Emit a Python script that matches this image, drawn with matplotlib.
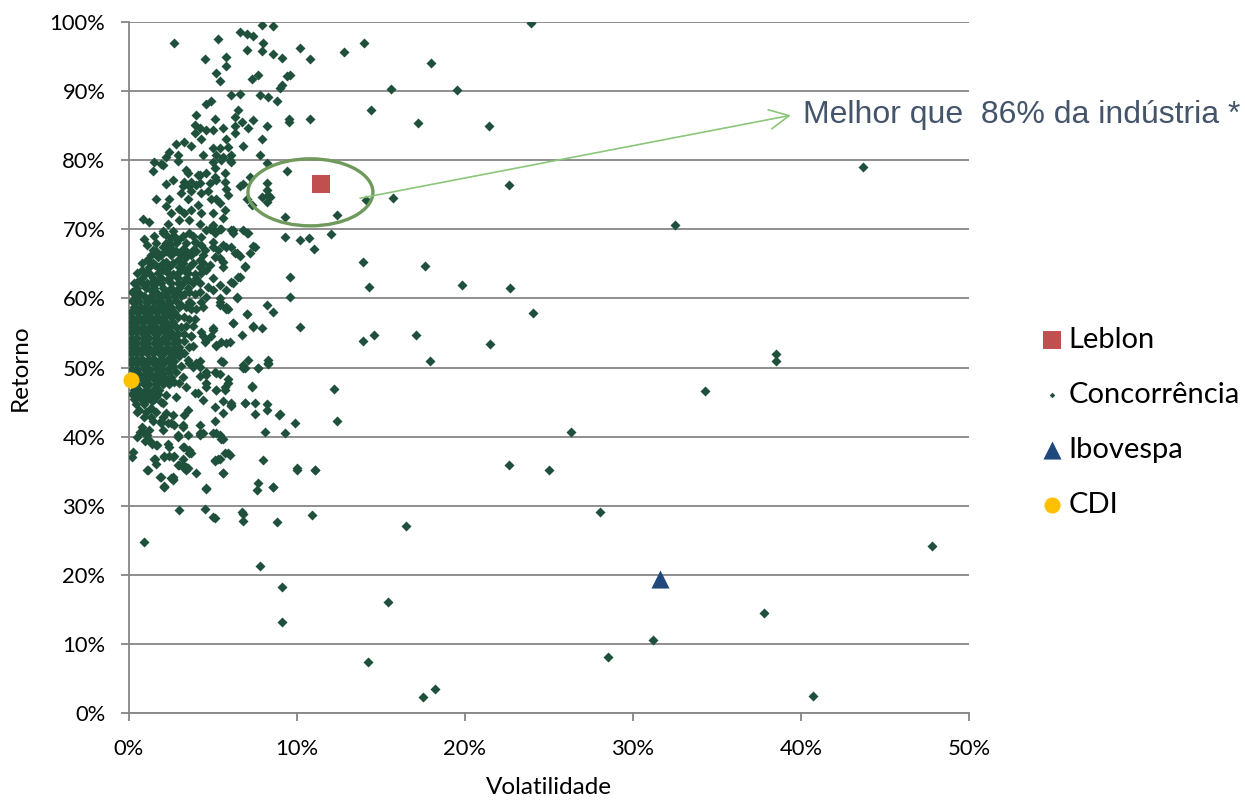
import matplotlib
matplotlib.use('Agg')
import matplotlib.pyplot as plt
from matplotlib.patches import Ellipse
from matplotlib.ticker import FuncFormatter

# ---------------- data (volatility %, return %) ----------------
leblon_vol, leblon_ret = [11.4], [76.55]
ibov_vol, ibov_ret = [31.6], [19.35]
cdi_vol, cdi_ret = [0.1], [48.2]

comp_outliers = [
    (23.9, 99.9), (18.0, 94.0), (15.6, 90.3), (19.5, 90.1), (17.2, 85.4), (21.4, 85.0),
    (43.7, 79.0), (22.6, 76.4), (15.7, 74.6), (32.5, 70.6), (17.6, 64.7), (19.8, 62.0),
    (22.65, 61.5), (24.05, 57.9), (17.1, 54.7), (21.5, 53.4), (38.5, 52.0), (17.9, 51.0),
    (38.5, 50.9), (34.3, 46.6), (26.3, 40.7), (22.6, 35.9), (25.0, 35.2), (28.05, 29.1),
    (16.5, 27.1), (47.8, 24.1), (15.4, 16.0), (37.8, 14.4), (31.2, 10.5), (28.5, 8.1),
    (18.2, 3.5), (17.5, 2.3), (40.7, 2.5), (14.2, 7.4), (14.4, 87.3), (14.0, 96.9),
    (12.8, 95.7), (14.1, 74.2), (13.9, 65.2), (14.3, 61.6), (13.9, 53.9), (14.6, 54.7),
    (12.2, 46.9), (12.4, 42.2), (12.4, 72.1), (12.0, 69.3), (11.1, 35.2), (10.9, 28.7),
    (9.1, 18.2), (9.1, 13.2), (7.8, 21.3), (0.9, 24.8),
]

comp_upper = [
    (7.9, 99.5), (8.6, 99.4), (6.6, 98.5), (7.0, 98.2), (7.4, 98.0), (8.0, 97.0), (2.7, 97.0),
    (5.3, 97.5), (10.2, 96.3), (7.0, 95.9), (7.9, 95.8), (8.6, 95.3), (9.1, 94.8), (10.8, 94.6),
    (4.5, 94.6), (5.8, 95.0), (5.8, 93.6), (5.2, 92.6), (5.4, 91.5), (7.3, 91.7), (7.7, 92.4),
    (9.4, 92.2), (9.6, 92.3), (9.1, 90.9), (9.0, 90.5), (6.1, 89.4), (6.6, 89.6), (7.8, 89.4),
    (8.3, 89.2), (8.8, 88.5), (4.9, 88.5), (4.6, 88.1), (4.0, 86.6), (5.1, 86.0), (6.5, 87.3),
    (6.3, 86.3), (6.7, 85.6), (7.4, 85.8), (9.5, 86.0), (9.5, 85.6), (10.8, 86.0), (8.2, 84.9),
    (7.1, 84.7), (6.3, 85.0), (5.6, 84.7), (3.9, 85.1), (4.2, 84.6), (4.6, 84.3), (5.0, 84.3),
    (3.9, 83.9), (6.3, 84.0), (5.8, 83.0), (6.8, 82.1), (7.9, 83.0), (4.3, 83.0), (2.8, 82.4),
    (3.3, 82.6), (3.7, 82.1), (5.0, 81.7), (5.4, 81.7), (5.9, 81.9), (2.4, 81.2), (2.9, 80.8),
    (4.4, 80.8), (5.2, 80.8), (5.6, 80.5), (6.1, 80.8), (7.8, 80.8), (2.2, 80.5), (2.0, 79.3),
    (1.5, 79.7), (1.9, 79.5), (5.0, 79.8), (5.5, 80.0), (6.0, 80.0), (6.1, 79.8), (8.2, 79.6),
    (1.4, 78.4), (2.9, 79.9), (3.4, 78.6), (3.5, 78.2), (4.1, 77.8), (4.2, 77.9), (4.6, 78.1),
    (5.1, 78.8), (5.7, 78.1), (5.1, 77.6), (9.4, 78.5), (7.2, 77.6), (2.6, 77.1), (3.3, 76.9),
    (3.7, 76.9), (4.2, 76.7), (2.2, 76.6), (3.2, 76.2), (3.6, 76.2), (4.0, 76.4), (4.8, 76.7),
    (5.2, 77.1), (5.7, 76.9), (5.8, 75.9), (6.6, 76.2), (6.8, 76.6), (8.2, 76.7), (8.2, 75.7),
    (7.9, 74.7), (8.3, 75.0), (8.4, 74.7), (8.2, 73.9), (7.0, 74.4), (7.3, 73.5), (9.3, 71.8),
    (1.6, 74.4), (2.4, 74.4), (3.1, 75.2), (3.5, 74.4), (3.7, 75.5), (4.3, 75.2), (4.7, 75.5),
    (4.9, 74.4), (5.2, 74.4), (5.4, 73.8), (5.9, 75.0), (2.2, 73.3), (2.5, 72.3), (3.0, 73.0),
    (3.3, 72.3), (3.7, 72.8), (4.1, 73.5), (4.3, 72.3), (5.0, 72.3), (5.7, 72.8), (5.6, 71.6),
    (0.85, 71.5), (1.2, 71.0), (2.3, 70.8), (3.0, 71.3), (3.6, 71.3), (4.2, 70.8), (5.0, 70.6),
    (5.5, 70.1), (9.3, 68.9), (10.2, 68.5), (10.7, 68.8), (0.9, 68.6), (2.0, 69.5), (2.5, 68.7),
    (4.6, 69.9), (5.1, 69.5), (6.1, 69.9), (6.2, 69.5), (6.8, 69.9), (7.1, 69.5), (7.5, 67.5),
    (11.0, 67.2),
]

comp_middle = [
    (5.6, 67.7), (6.1, 67.5), (7.4, 67.6), (5.0, 67.5), (4.4, 66.3), (5.1, 66.0), (5.6, 65.2),
    (6.4, 66.5), (6.6, 66.1), (7.2, 66.5), (6.9, 64.7), (6.6, 63.1), (6.2, 62.3), (5.0, 61.2),
    (5.4, 60.0), (6.4, 60.1), (5.8, 58.4), (6.2, 56.5), (7.0, 57.7), (8.2, 59.0), (8.6, 58.1),
    (9.6, 63.1), (9.6, 60.2), (10.2, 55.8), (7.4, 55.9), (7.9, 55.7), (6.7, 54.7), (5.8, 53.5),
    (5.2, 53.1), (4.6, 54.0), (5.0, 55.4), (4.4, 54.5), (3.7, 54.5), (3.8, 53.1), (7.1, 51.1),
    (6.8, 50.4), (6.8, 49.9), (7.7, 50.0), (8.3, 51.1), (8.3, 50.5), (5.6, 50.8), (7.3, 47.2),
    (5.9, 48.3), (5.2, 49.2), (4.6, 48.9), (4.2, 50.1), (3.6, 50.6), (4.0, 50.6), (4.6, 47.7),
    (5.2, 46.7), (5.7, 47.2), (4.1, 46.3), (4.4, 45.3),
    (2.0, 69.7), (2.2, 69.2), (2.6, 69.7), (2.9, 68.5), (2.4, 68.0), (3.2, 69.0), (3.6, 69.4),
    (3.9, 68.2), (4.3, 68.9), (4.8, 70.1), (5.1, 69.7), (5.4, 70.1), (6.2, 69.9), (7.0, 69.4),
    (5.0, 68.2), (5.3, 67.0), (5.8, 67.5), (6.3, 66.5), (6.9, 64.6), (6.1, 62.4), (6.5, 63.1),
    (6.4, 60.2), (1.45, 67.0), (1.75, 66.0), (2.0, 67.5), (2.6, 67.0), (3.2, 67.2), (3.8, 67.0),
    (4.5, 67.0), (1.05, 65.6), (1.55, 64.8), (2.2, 65.3), (2.9, 65.6), (3.4, 66.0), (4.2, 65.6),
    (4.8, 64.8), (5.4, 65.8), (5.6, 64.6), (0.75, 64.1), (1.25, 63.6), (2.0, 64.1), (2.6, 63.6),
    (3.3, 64.1), (3.9, 63.6), (4.6, 64.1), (5.0, 62.9), (0.45, 62.4), (1.05, 62.2), (1.65, 62.4),
    (2.3, 62.7), (2.9, 62.2), (3.5, 62.7), (4.2, 62.2), (4.7, 61.7), (5.4, 61.9), (5.8, 61.2),
    (0.65, 60.7), (1.35, 61.0), (2.0, 60.7), (2.6, 61.0), (3.3, 60.7), (3.9, 60.7), (4.6, 60.2),
    (0.35, 59.3), (1.05, 59.3), (1.75, 59.5), (2.4, 59.3), (3.1, 59.0), (3.7, 59.3), (4.4, 58.8),
    (5.4, 59.0), (5.8, 58.8),
    (3.6, 59.5), (4.3, 59.5), (5.4, 59.5), (5.9, 58.4), (7.0, 57.8), (6.2, 56.5), (7.4, 56.0),
    (5.0, 55.7), (4.3, 55.2), (4.9, 54.5), (3.7, 54.6), (4.5, 53.7), (5.2, 53.3), (5.5, 53.7),
    (6.0, 53.7), (3.6, 53.0), (3.0, 52.5), (3.3, 52.1), (5.5, 50.9), (6.9, 49.9), (7.7, 49.9),
    (8.3, 50.6), (3.5, 51.1), (4.2, 50.9), (3.8, 50.1), (4.6, 49.4), (5.1, 49.4), (4.2, 48.7),
    (5.4, 49.1), (5.9, 47.7), (7.3, 47.3), (5.2, 46.7), (5.7, 46.7), (4.6, 47.2), (3.9, 46.3),
    (3.4, 47.2), (3.0, 47.7), (2.8, 45.8), (2.2, 46.0), (1.6, 45.8),
    (1.6, 68.0), (2.2, 68.0), (2.8, 68.0), (3.4, 68.0), (4.0, 68.0), (1.3, 66.3), (1.9, 66.3),
    (2.5, 66.3), (3.1, 66.3), (3.7, 66.3), (1.2, 64.5), (1.7, 64.5), (2.4, 64.5), (3.0, 64.5),
    (3.6, 64.5), (4.2, 64.5), (0.8, 63.0), (1.4, 63.0), (1.9, 63.0), (2.4, 63.0), (2.9, 63.0),
    (3.4, 63.0), (4.0, 63.0), (0.5, 61.5), (1.0, 61.5), (1.5, 61.5), (2.0, 61.5), (2.5, 61.5),
    (3.0, 61.5), (3.5, 61.5),
]

comp_fill = [
    (1.5, 69.0), (2.7, 69.0), (3.8, 69.0), (1.1, 67.7), (2.4, 67.7), (4.3, 67.7),
    (1.6, 66.9), (2.2, 66.9), (2.8, 66.9), (3.4, 66.9), (4.0, 66.9),
    (0.8, 65.1), (1.4, 65.1), (2.0, 65.1), (2.6, 65.1), (3.2, 65.1), (3.8, 65.1), (4.4, 65.1),
    (0.5, 63.7), (1.0, 63.7), (1.7, 63.7), (2.3, 63.7), (2.9, 63.7), (3.5, 63.7), (4.3, 63.7),
    (0.3, 62.3), (0.8, 62.3), (1.3, 62.3), (1.9, 62.3), (2.5, 62.3), (3.2, 62.3), (3.8, 62.3),
    (0.2, 60.9), (1.6, 60.9), (2.3, 60.9), (2.9, 60.9), (3.6, 60.9), (4.2, 60.9),
    (3.7, 58.4), (4.0, 58.4), (3.6, 57.0), (3.9, 57.0), (3.4, 56.0), (3.8, 56.0),
    (2.9, 54.8), (3.3, 54.8), (2.9, 53.9), (3.3, 53.9), (3.0, 53.0), (2.8, 52.3),
    (2.6, 51.6), (3.0, 51.6), (2.7, 50.9), (2.6, 50.2), (3.1, 50.2), (2.4, 49.4), (2.8, 49.4),
    (2.5, 48.6), (3.2, 48.6), (2.7, 47.9), (1.9, 45.0), (1.3, 44.2), (0.5, 43.5), (1.0, 43.5),
    (1.6, 43.5), (0.9, 42.8), (1.3, 42.8), (2.0, 42.8), (1.2, 41.0), (2.0, 41.0),
]

comp_core = [
    (0.4, 60.3), (0.9, 60.3), (1.3, 60.3), (1.8, 60.3), (2.2, 60.3), (2.7, 60.3), (3.1, 60.3),
    (0.2, 59.6), (0.6, 59.6), (1.1, 59.6), (1.5, 59.6), (1.9, 59.6), (2.4, 59.6), (2.8, 59.6),
    (0.3, 58.8), (0.7, 58.8), (1.0, 58.8), (1.4, 58.8), (1.8, 58.8), (2.1, 58.8), (2.5, 58.8),
    (3.0, 58.8), (3.4, 58.8),
    (0.1, 58.1), (0.5, 58.1), (0.9, 58.1), (1.2, 58.1), (1.6, 58.1), (2.0, 58.1), (2.3, 58.1),
    (2.7, 58.1),
    (0.2, 57.3), (0.6, 57.3), (1.0, 57.3), (1.3, 57.3), (1.7, 57.3), (2.1, 57.3), (2.5, 57.3),
    (2.9, 57.3), (3.3, 57.3),
    (0.1, 56.6), (0.4, 56.6), (0.8, 56.6), (1.2, 56.6), (1.5, 56.6), (1.9, 56.6), (2.2, 56.6),
    (2.6, 56.6),
    (0.2, 55.8), (0.5, 55.8), (0.9, 55.8), (1.3, 55.8), (1.6, 55.8), (2.0, 55.8), (2.4, 55.8),
    (2.8, 55.8), (3.1, 55.8),
    (0.1, 55.1), (0.4, 55.1), (0.7, 55.1), (1.1, 55.1), (1.4, 55.1), (1.8, 55.1), (2.2, 55.1),
    (2.5, 55.1),
    (0.2, 54.3), (0.5, 54.3), (0.9, 54.3), (1.2, 54.3), (1.6, 54.3), (2.0, 54.3), (2.3, 54.3),
    (2.7, 54.3),
    (0.1, 53.6), (0.4, 53.6), (0.8, 53.6), (1.1, 53.6), (1.5, 53.6), (1.8, 53.6), (2.2, 53.6),
    (2.6, 53.6),
    (0.2, 52.8), (0.5, 52.8), (0.9, 52.8), (1.2, 52.8), (1.6, 52.8), (1.9, 52.8), (2.3, 52.8),
    (2.7, 52.8),
    (0.1, 52.1), (0.4, 52.1), (0.7, 52.1), (1.1, 52.1), (1.4, 52.1), (1.8, 52.1), (2.1, 52.1),
    (2.5, 52.1),
    (0.2, 51.3), (0.5, 51.3), (0.8, 51.3), (1.2, 51.3), (1.5, 51.3), (1.9, 51.3), (2.3, 51.3),
    (0.1, 50.6), (0.4, 50.6), (0.7, 50.6), (1.0, 50.6), (1.4, 50.6), (1.7, 50.6), (2.1, 50.6),
    (2.5, 50.6),
    (0.2, 49.8), (0.5, 49.8), (0.9, 49.8), (1.2, 49.8), (1.6, 49.8), (1.9, 49.8), (2.3, 49.8),
    (0.3, 49.1), (0.6, 49.1), (1.0, 49.1), (1.3, 49.1), (1.7, 49.1), (2.0, 49.1),
    (0.4, 48.3), (0.8, 48.3), (1.1, 48.3), (1.5, 48.3), (1.8, 48.3), (2.2, 48.3),
    (0.2, 47.6), (0.5, 47.6), (0.9, 47.6), (1.2, 47.6), (1.6, 47.6), (2.0, 47.6), (2.4, 47.6),
    (0.3, 46.8), (0.6, 46.8), (1.0, 46.8), (1.4, 46.8), (1.8, 46.8),
    (0.2, 46.1), (0.5, 46.1), (0.9, 46.1), (1.3, 46.1), (1.7, 46.1),
    (0.3, 45.4), (0.7, 45.4), (1.1, 45.4), (1.5, 45.4),
    (0.4, 44.7), (0.9, 44.7), (0.6, 43.9),
]

comp_lower = [
    (5.1, 44.3), (5.6, 45.1), (6.1, 44.8), (6.1, 44.4), (6.9, 44.8), (7.5, 44.8), (8.2, 44.7),
    (8.2, 43.9), (7.5, 43.2), (9.0, 43.2), (9.9, 41.9), (9.3, 40.5), (8.1, 40.6), (5.1, 42.2),
    (4.4, 40.5), (4.2, 40.5), (5.6, 39.7), (5.2, 40.5), (3.5, 40.2), (2.9, 40.0), (2.3, 39.0),
    (1.6, 38.8), (1.25, 39.3), (1.05, 40.2), (0.45, 40.0), (0.25, 37.8), (0.15, 37.1),
    (0.85, 40.7), (0.75, 41.4), (1.45, 42.2), (1.9, 41.9), (2.5, 41.9), (3.2, 41.4), (3.7, 37.6),
    (3.3, 38.5), (3.6, 38.0), (3.2, 36.8), (2.6, 37.1), (2.1, 37.1), (1.5, 36.8), (1.15, 35.2),
    (1.85, 34.2), (2.5, 34.0), (3.0, 35.9), (3.3, 35.4), (4.0, 34.7), (4.6, 32.5), (2.1, 32.7),
    (5.6, 34.7), (5.1, 36.6), (5.3, 36.8), (5.7, 37.6), (5.9, 37.6), (8.0, 36.6), (7.7, 33.3),
    (8.6, 32.7), (10.0, 35.5),
    (1.35, 45.1), (2.0, 44.8), (2.2, 43.4), (2.6, 43.1), (1.9, 42.2), (2.3, 41.9), (2.7, 41.7),
    (3.3, 43.1), (3.5, 43.9), (3.2, 41.7), (4.2, 41.7), (5.6, 43.4), (6.1, 44.6), (6.9, 44.8),
    (8.9, 43.1), (5.0, 40.5), (5.4, 40.2), (4.2, 40.2), (2.9, 40.2), (5.5, 39.7), (0.65, 40.7),
    (0.95, 39.3), (1.35, 39.0), (1.65, 38.8), (2.4, 38.5), (3.2, 38.5), (3.6, 37.6),
    (1.1, 35.2), (1.9, 34.2), (2.1, 32.9), (2.6, 34.2), (2.6, 33.8), (3.4, 35.2), (4.6, 32.4),
    (5.6, 34.7), (7.6, 32.3), (8.6, 32.7), (10.0, 35.2), (11.1, 35.2), (3.0, 29.4), (4.5, 29.5),
    (5.0, 28.4), (5.1, 28.2), (6.7, 29.1), (6.8, 28.8), (6.8, 27.8), (8.8, 27.7), (2.1, 37.2),
    (2.4, 37.2), (2.7, 37.2), (1.55, 36.8), (1.6, 36.0), (2.9, 35.9), (3.2, 35.9), (3.4, 35.6),
    (3.5, 35.4), (5.1, 36.4), (5.4, 36.8), (6.0, 37.3), (2.6, 33.7), (2.1, 32.7),
]

comp_points = comp_outliers + comp_upper + comp_middle + comp_fill + comp_core + comp_lower
comp_vol = [p[0] for p in comp_points]
comp_ret = [p[1] for p in comp_points]

x_ticks = [0, 10, 20, 30, 40, 50]
y_ticks = [0, 10, 20, 30, 40, 50, 60, 70, 80, 90, 100]
annotation_text = "Melhor que  86% da indústria *"

# ---------------- figure ----------------
plt.rcParams['font.family'] = ['Lato', 'DejaVu Sans']
fig = plt.figure(figsize=(12.45, 8.0), dpi=100)
ax = fig.add_axes([129 / 1245, 87 / 800, 840 / 1245, 691 / 800])

grid_c = '#868686'
comp_c = '#1e503c'

sc_comp = ax.scatter(comp_vol, comp_ret, s=26, marker='D', color=comp_c, linewidths=0, zorder=3,
                     label='Concorrência')
sc_leb = ax.scatter(leblon_vol, leblon_ret, s=150, marker='s', color='#c0504d', linewidths=0,
                    zorder=6, label='Leblon')
sc_ibov = ax.scatter(ibov_vol, ibov_ret, s=170, marker='^', color='#1f497d', linewidths=0,
                     zorder=6, label='Ibovespa')
sc_cdi = ax.scatter(cdi_vol, cdi_ret, s=135, marker='o', color='#ffc000', linewidths=0,
                    zorder=6, label='CDI', clip_on=False)

ax.set_xlim(0, 50)
ax.set_ylim(0, 100)
ax.set_xticks(x_ticks)
ax.set_yticks(y_ticks)
pct = FuncFormatter(lambda v, p: f"{v:.0f}%")
ax.xaxis.set_major_formatter(pct)
ax.yaxis.set_major_formatter(pct)
ax.yaxis.grid(True, color=grid_c, linewidth=1.3, zorder=0)
ax.set_axisbelow(True)
for s in ['top', 'right']:
    ax.spines[s].set_visible(False)
for s in ['left', 'bottom']:
    ax.spines[s].set_color(grid_c)
    ax.spines[s].set_linewidth(1.3)
ax.tick_params(axis='both', direction='out', length=6, width=1.3, color=grid_c,
               labelsize=15.8, labelcolor='black')
ax.tick_params(axis='y', pad=11)
ax.tick_params(axis='x', pad=13)

ax.set_xlabel('Volatilidade', fontsize=17.5)
ax.set_ylabel('Retorno', fontsize=17.5)
ax.xaxis.set_label_coords(0.5, (713 - 787) / 691)
ax.xaxis.label.set_va('center')
ax.yaxis.set_label_coords((20 - 129) / 840, 0.5)
ax.yaxis.label.set_va('center')

# ellipse around Leblon
ell = Ellipse((10.8, 75.35), width=7.44, height=9.7, fill=False, edgecolor='#6f9a5c',
              linewidth=2.4, zorder=5)
ax.add_patch(ell)

# arrow + annotation
ax.annotate('', xy=(39.4, 86.5), xytext=(13.75, 74.5),
            arrowprops=dict(arrowstyle='->,head_length=0.7,head_width=0.35', color='#8cc67a',
                            lw=1.2, shrinkA=0, shrinkB=0, mutation_scale=20), zorder=5)
ax.text(40.1, 86.5, annotation_text, fontsize=23, color='#44546a', va='center', ha='left',
        family=['Liberation Sans', 'DejaVu Sans'], clip_on=False)

# legend
leg = fig.legend(handles=[sc_leb, sc_comp, sc_ibov, sc_cdi],
                 labels=['Leblon', 'Concorrência', 'Ibovespa', 'CDI'],
                 loc='upper left', bbox_to_anchor=(1043 / 1245, 1 - 327 / 800),
                 frameon=False, fontsize=21, handlelength=0.6, handletextpad=0.28,
                 labelspacing=0.99, borderpad=0, borderaxespad=0, scatterpoints=1)
leg.legend_handles[1].set_sizes([8])

fig.savefig('out.png', dpi=100)
